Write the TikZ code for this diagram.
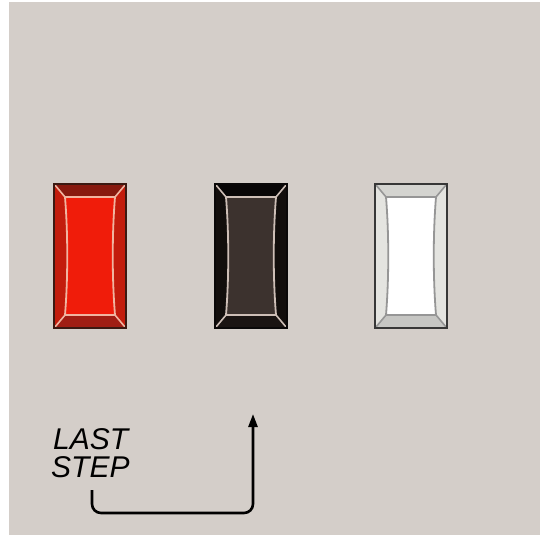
\documentclass[tikz,border=0pt]{standalone}
\usepackage{fontspec}
\setmainfont{Liberation Sans}
\usetikzlibrary{arrows.meta}
\definecolor{bgc}{RGB}{212,206,201}
\definecolor{rBorder}{RGB}{60,25,18}
\definecolor{rTop}{RGB}{135,25,15}
\definecolor{rSide}{RGB}{195,28,12}
\definecolor{rBot}{RGB}{160,30,20}
\definecolor{rFace}{RGB}{240,28,10}
\definecolor{rLine}{RGB}{240,180,160}
\definecolor{kBorder}{RGB}{10,8,8}
\definecolor{kTop}{RGB}{8,6,6}
\definecolor{kSide}{RGB}{18,14,12}
\definecolor{kBot}{RGB}{26,20,18}
\definecolor{kFace}{RGB}{60,50,46}
\definecolor{kLine}{RGB}{205,190,182}
\definecolor{wBorder}{RGB}{55,55,55}
\definecolor{wTop}{RGB}{212,212,208}
\definecolor{wSide}{RGB}{228,228,224}
\definecolor{wBot}{RGB}{198,198,195}
\definecolor{wFace}{RGB}{255,255,255}
\definecolor{wLine}{RGB}{150,150,150}
\tikzset{
  pics/pbtn/.style n args={6}{code={
    \fill[#3] (0,0) rectangle (72,144);
    \fill[#2] (0,0) -- (72,0) -- (61,13) -- (11,13) -- cycle;
    \fill[#4] (0,144) -- (72,144) -- (61,131) -- (11,131) -- cycle;
    \fill[#5] (11,13) -- (61,13) .. controls (58,50) and (58,94) .. (61,131)
       -- (11,131) .. controls (14,94) and (14,50) .. (11,13) -- cycle;
    \draw[#6, line width=1.8pt, line join=round] (11,13) -- (61,13) .. controls (58,50) and (58,94) .. (61,131)
       -- (11,131) .. controls (14,94) and (14,50) .. (11,13) -- cycle;
    \draw[#6, line width=1.6pt] (1,1) -- (11,13) (71,1) -- (61,13) (1,143) -- (11,131) (71,143) -- (61,131);
    \draw[#1, line width=2pt] (0,0) rectangle (72,144);
  }},
  btnbox/.style={minimum width=72pt, minimum height=144pt, inner sep=0pt, anchor=north west},
  lbl/.style={font=\fontsize{30}{30}\selectfont\itshape, inner sep=0pt, anchor=base west, text=black},
  flow/.style={line width=2.6pt, rounded corners=9pt, -{Triangle[length=13pt,width=9pt]}}
}
\begin{document}
\begin{tikzpicture}[x=1pt,y=-1pt]
\useasboundingbox (0,0) rectangle (540,535);
\fill[white] (0,0) rectangle (540,535);
\fill[bgc] (9,2) rectangle (540,535);
\node[btnbox] (red) at (54,184) {};
\node[btnbox] (blk) at (215,184) {};
\node[btnbox] (wht) at (375,184) {};
\pic at (54,184) {pbtn={rBorder}{rTop}{rSide}{rBot}{rFace}{rLine}};
\pic at (215,184) {pbtn={kBorder}{kTop}{kSide}{kBot}{kFace}{kLine}};
\pic at (375,184) {pbtn={wBorder}{wTop}{wSide}{wBot}{wFace}{wLine}};
\node[lbl] (last) at (53,449) {LAST};
\node[lbl] (stp) at (51,477) {STEP};
\coordinate (s) at (92,490);
\coordinate (c1) at (92,513);
\coordinate (c2) at (253,513);
\coordinate (e) at (253,414);
\draw[flow] (s) -- (c1) -- (c2) -- (e);
\end{tikzpicture}
\end{document}
